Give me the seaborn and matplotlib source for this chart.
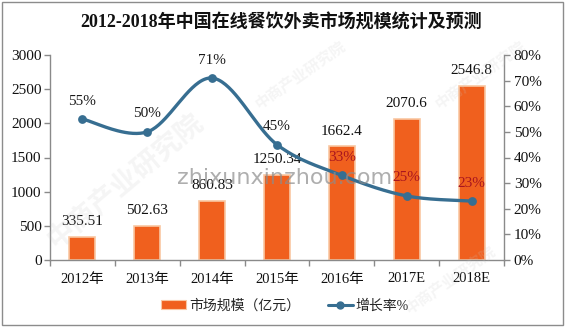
import numpy as np
import pandas as pd
import matplotlib
matplotlib.use("Agg")
import matplotlib.pyplot as plt
import seaborn as sns
from matplotlib.patches import Patch, Rectangle
from matplotlib.lines import Line2D
from matplotlib.ticker import FuncFormatter, MultipleLocator, FixedLocator

# ---- data ----
years = ["2012年", "2013年", "2014年", "2015年", "2016年", "2017E", "2018E"]
market_size = [335.51, 502.63, 860.83, 1250.34, 1662.4, 2070.6, 2546.8]   # 亿元
growth_rate = [55, 50, 71, 45, 33, 25, 23]                                  # %
growth_label_colors = ["#1a1a1a", "#1a1a1a", "#1a1a1a", "#1a1a1a",
                       "#a8151f", "#a8151f", "#a8151f"]

title = "2012-2018年中国在线餐饮外卖市场规模统计及预测"
bar_name = "市场规模（亿元）"
line_name = "增长率%"

BAR_COLOR = "#f0601e"
BAR_EDGE = "#f9c7a2"
LINE_COLOR = "#376e91"
AXIS_COLOR = "#8a8a8a"

sns.set_theme(style="white")
plt.rcParams["font.family"] = ["Liberation Serif", "Noto Sans CJK SC", "DejaVu Sans"]

W, H = 565, 327
fig = plt.figure(figsize=(W / 100, H / 100), dpi=100)
fig.patch.set_facecolor("white")

ax = fig.add_axes([50 / W, 1 - 260 / H, 454 / W, 205 / H])
df = pd.DataFrame({"year": years, "size": market_size})
sns.barplot(data=df, x="year", y="size", ax=ax, color=BAR_COLOR,
            width=0.4, edgecolor=BAR_EDGE, linewidth=1.2, saturation=1)
for patch in ax.patches:
    patch.set_facecolor(BAR_COLOR)

ax.set_xlim(-0.5, len(years) - 0.5)
ax.set_ylim(0, 3000)
ax.yaxis.set_major_locator(MultipleLocator(500))
ax.set_xlabel("")
ax.set_ylabel("")

# value labels above bars
for i, v in enumerate(market_size):
    ax.annotate(f"{v:g}", (i, v), xytext=(0, 11), textcoords="offset points",
                ha="center", va="center", fontsize=11, color="#111111")

# smoothed growth-rate line on the secondary axis
ax2 = ax.twinx()
ax2.set_ylim(0, 80)
ax2.yaxis.set_major_locator(MultipleLocator(10))
ax2.yaxis.set_major_formatter(FuncFormatter(lambda v, p: f"{v:.0f}%"))


def bezier_smooth(xs, ys, n=40):
    pts = np.column_stack([xs, ys]).astype(float)
    out = [pts[0]]
    last = len(pts) - 1
    t = np.linspace(0, 1, n)[1:, None]
    for i in range(last):
        p0 = pts[max(i - 1, 0)]
        p1 = pts[i]
        p2 = pts[i + 1]
        p3 = pts[min(i + 2, last)]
        c1 = p1 + (p2 - p0) / 6
        c2 = p2 - (p3 - p1) / 6
        seg = ((1 - t) ** 3) * p1 + 3 * ((1 - t) ** 2) * t * c1 \
            + 3 * (1 - t) * t ** 2 * c2 + t ** 3 * p2
        out.extend(seg)
    out = np.array(out)
    return out[:, 0], out[:, 1]


xpos = np.arange(len(years))
sx, sy = bezier_smooth(xpos, growth_rate)
ax2.plot(sx, sy, color=LINE_COLOR, lw=2.4, solid_capstyle="round", zorder=3)
sns.scatterplot(x=xpos, y=growth_rate, ax=ax2, color=LINE_COLOR, s=40,
                edgecolor=LINE_COLOR, linewidth=0, zorder=4)

for i, (g, c) in enumerate(zip(growth_rate, growth_label_colors)):
    ax2.annotate(f"{g}%", (i, g), xytext=(0, 13), textcoords="offset points",
                 ha="center", va="center", fontsize=11, color=c)

# axes styling
for a in (ax, ax2):
    for s in a.spines.values():
        s.set_color(AXIS_COLOR)
        s.set_linewidth(1)
    a.spines["top"].set_visible(False)
ax.spines["right"].set_visible(False)
ax2.spines["left"].set_visible(False)
ax2.spines["bottom"].set_visible(False)

ax.tick_params(axis="y", direction="out", length=4, width=1, color=AXIS_COLOR,
               labelsize=11, labelcolor="#111111", pad=2, left=True)
ax2.tick_params(axis="y", direction="out", length=4, width=1, color=AXIS_COLOR,
                labelsize=11, labelcolor="#111111", pad=3, right=True)
ax.xaxis.set_minor_locator(FixedLocator(np.arange(-0.5, len(years), 1.0)))
ax.tick_params(axis="x", which="major", length=0, labelsize=10.5,
               labelcolor="#111111", pad=9)
ax.tick_params(axis="x", which="minor", direction="out", length=4, width=1,
               color=AXIS_COLOR, bottom=True)
ax.grid(False)
ax2.grid(False)

# title
fig.text(281 / W, 1 - 23 / H, title, ha="center", va="center",
         fontsize=13, fontweight="bold", color="#111111")

# legend
handles = [Patch(facecolor=BAR_COLOR, edgecolor=BAR_EDGE, linewidth=0.8),
           Line2D([0], [0], color=LINE_COLOR, lw=2.2, marker="o", markersize=5)]
fig.legend(handles, [bar_name, line_name], loc="center",
           bbox_to_anchor=(285 / W, 1 - 306 / H), ncol=2, frameon=False,
           fontsize=10, handlelength=1.8, handleheight=0.6,
           handletextpad=0.2, columnspacing=2.0)

# site watermarks
fig.text(285 / W, 1 - 178 / H, "zhixunxinzhou.com", ha="center", va="center",
         fontsize=16, color="#8c8c8c", alpha=0.7, family="DejaVu Sans",
         zorder=10)
for (x, y, rot, fs) in [(125, 180, 40, 20), (480, 75, 35, 11),
                        (300, 75, 35, 11), (450, 280, 35, 11)]:
    fig.text(x / W, 1 - y / H, "中商产业研究院", ha="center", va="center",
             rotation=rot, fontsize=fs, color="#c8c8c8", alpha=0.18,
             family=["Noto Sans CJK SC"], fontweight="bold", zorder=10)

# outer frame
fig.add_artist(Rectangle((2 / W, 2 / H), 561 / W, 323 / H,
                         transform=fig.transFigure, fill=False,
                         edgecolor="#8c8c8c", linewidth=1))

fig.savefig("out.png", dpi=100, facecolor="white")
